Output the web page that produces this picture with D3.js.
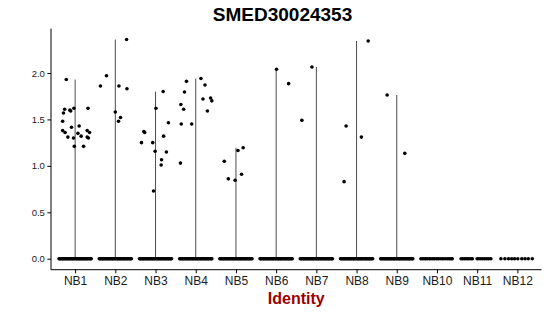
<!DOCTYPE html>
<html>
<head>
<meta charset="utf-8">
<script src="https://cdn.jsdelivr.net/npm/d3@7"></script>
<style>
  body { margin: 0; background: #fff; }
  text { font-family: "Liberation Sans", Arial, sans-serif; }
</style>
</head>
<body>
<div id="chart"></div>
<script>
// Violin + jitter plot of one gene's expression per identity (Seurat VlnPlot style)

var geneName = "SMED30024353";
var identities = ["NB1", "NB2", "NB3", "NB4", "NB5", "NB6", "NB7", "NB8", "NB9", "NB10", "NB11", "NB12"];
var yTicks = [0, 0.5, 1.0, 1.5, 2.0];

// non-zero cells: [expression, jitter (fraction of a category step)]
var nonZero = {
  NB1: [[1.93, -0.22], [1.48, -0.31], [1.57, -0.29], [1.61, -0.26], [1.60, -0.13], [1.59, -0.11],
        [1.62, -0.03], [1.62, 0.32], [1.38, -0.31], [1.36, -0.25], [1.31, -0.18], [1.415, -0.09],
        [1.30, -0.04], [1.21, -0.02], [1.35, 0.07], [1.43, 0.10], [1.32, 0.15], [1.21, 0.21],
        [1.38, 0.30], [1.36, 0.36], [1.31, 0.30], [1.30, 0.33]],
  NB2: [[2.36, 0.28], [1.97, -0.22], [1.86, -0.37], [1.86, 0.09], [1.83, 0.29], [1.58, 0.00],
        [1.52, 0.13], [1.48, 0.08]],
  NB3: [[1.80, 0.19], [1.62, 0.01], [1.465, 0.32], [1.37, -0.29], [1.36, -0.27], [1.25, -0.35],
        [1.25, -0.07], [1.32, 0.20], [1.157, -0.01], [1.15, 0.27], [1.066, 0.15], [1.01, 0.14],
        [0.73, -0.05]],
  NB4: [[1.94, 0.13], [1.87, 0.23], [1.91, -0.23], [1.795, -0.28], [1.72, 0.18], [1.73, 0.37],
        [1.70, 0.40], [1.66, -0.37], [1.61, -0.30], [1.59, 0.29], [1.45, -0.36], [1.45, -0.10],
        [1.03, -0.38]],
  NB5: [[1.05, -0.29], [1.165, 0.05], [1.195, 0.18], [0.91, 0.14], [0.86, -0.19], [0.845, -0.02]],
  NB6: [[2.04, 0.01], [1.885, 0.31]],
  NB7: [[2.065, -0.11], [1.49, -0.36]],
  NB8: [[2.345, 0.29], [1.43, -0.26], [1.31, 0.12], [0.83, -0.31]],
  NB9: [[1.763, -0.24], [1.135, 0.20]],
  NB10: [], NB11: [], NB12: []
};

// zero-expression cells: jitter positions (the dense groups share one list)
var zeroDense = [-0.40, -0.38, -0.36, -0.33, -0.31, -0.29, -0.26, -0.24, -0.21, -0.19, -0.17, -0.14,
                 -0.12, -0.09, -0.07, -0.05, -0.02, 0.00, 0.03, 0.05, 0.07, 0.10, 0.12, 0.14,
                 0.17, 0.19, 0.22, 0.24, 0.26, 0.29, 0.31, 0.33, 0.36, 0.38, 0.40];
var zeroNB10 = [-0.40, -0.36, -0.32, -0.28, -0.24, -0.19, -0.15, -0.10, -0.06, -0.01, 0.03, 0.08,
                0.13, 0.17, 0.22, 0.27, 0.31, 0.35, 0.38];
var zeroNB11 = [-0.40, -0.36, -0.32, -0.28, -0.24, -0.20, -0.15, -0.12, 0.00, 0.04, 0.09, 0.14,
                0.19, 0.24, 0.29, 0.34];
var zeroNB12 = [-0.41, -0.31, -0.22, -0.14, -0.07, 0.01, 0.11, 0.19, 0.27, 0.37];

var zeroJitter = {
  NB1: zeroDense, NB2: zeroDense, NB3: zeroDense, NB4: zeroDense, NB5: zeroDense,
  NB6: zeroDense, NB7: zeroDense, NB8: zeroDense, NB9: zeroDense,
  NB10: zeroNB10, NB11: zeroNB11, NB12: zeroNB12
};

var margin = { top: 28.6, right: 8.5, bottom: 46.3, left: 51 },
  width = 550 - margin.left - margin.right,
  height = 316 - margin.top - margin.bottom;

var svg = d3.select("#chart")
  .append("svg")
  .attr("width", 550)
  .attr("height", 316);

var g = svg.append("g")
  .attr("transform", "translate(" + margin.left + "," + margin.top + ")");

// flatten cells
var cells = [];
identities.forEach(function (id) {
  zeroJitter[id].forEach(function (j) { cells.push({ id: id, value: 0, jit: j }); });
  nonZero[id].forEach(function (p) { cells.push({ id: id, value: p[0], jit: p[1] }); });
});

var x = d3.scalePoint()
  .domain(identities)
  .range([0, width])
  .padding(0.6);

var yMax = d3.max(cells, function (d) { return d.value; });
var pad = yMax * 0.05;
var y = d3.scaleLinear()
  .domain([-pad, yMax + pad])
  .range([height, 0]);

// violins: so few expressing cells that each one collapses to a thin line from 0 to its max
var violin = identities.map(function (id) {
  var vals = nonZero[id].map(function (p) { return p[0]; });
  return { id: id, max: vals.length ? d3.max(vals) : 0 };
}).filter(function (d) { return d.max > 0; });

g.selectAll(".violin")
  .data(violin)
  .enter()
  .append("line")
  .attr("class", "violin")
  .attr("x1", function (d) { return x(d.id); })
  .attr("x2", function (d) { return x(d.id); })
  .attr("y1", y(0))
  .attr("y2", function (d) { return y(d.max); })
  .attr("stroke", "#4d4d4d")
  .attr("stroke-width", 1);

// jittered points
g.selectAll(".cell")
  .data(cells)
  .enter()
  .append("circle")
  .attr("class", "cell")
  .attr("cx", function (d) { return x(d.id) + d.jit * x.step(); })
  .attr("cy", function (d) { return y(d.value); })
  .attr("r", 1.8)
  .attr("fill", "#000");

// axes
var yAxis = g.append("g")
  .call(d3.axisLeft(y).tickValues(yTicks).tickFormat(d3.format(".1f")).tickSize(3.6).tickPadding(2.5));
yAxis.select(".domain").attr("d", "M0," + height + "V0").attr("stroke", "#000");
yAxis.selectAll("text").style("font-size", "9.5px").attr("fill", "#1a1a1a");

var xAxis = g.append("g")
  .attr("transform", "translate(0," + height + ")")
  .call(d3.axisBottom(x).tickSize(3.6).tickPadding(3));
xAxis.select(".domain").attr("d", "M0,0H" + width).attr("stroke", "#000");
xAxis.selectAll("text").style("font-size", "12px").attr("fill", "#1a1a1a");

// title
svg.append("text")
  .attr("x", 282.5)
  .attr("y", 21)
  .attr("text-anchor", "middle")
  .style("font-size", "19px")
  .style("font-weight", "bold")
  .text(geneName);

// x axis title
svg.append("text")
  .attr("x", margin.left + width / 2)
  .attr("y", 304)
  .attr("text-anchor", "middle")
  .style("font-size", "16px")
  .style("font-weight", "bold")
  .attr("fill", "#9b0000")
  .text("Identity");
</script>
</body>
</html>
